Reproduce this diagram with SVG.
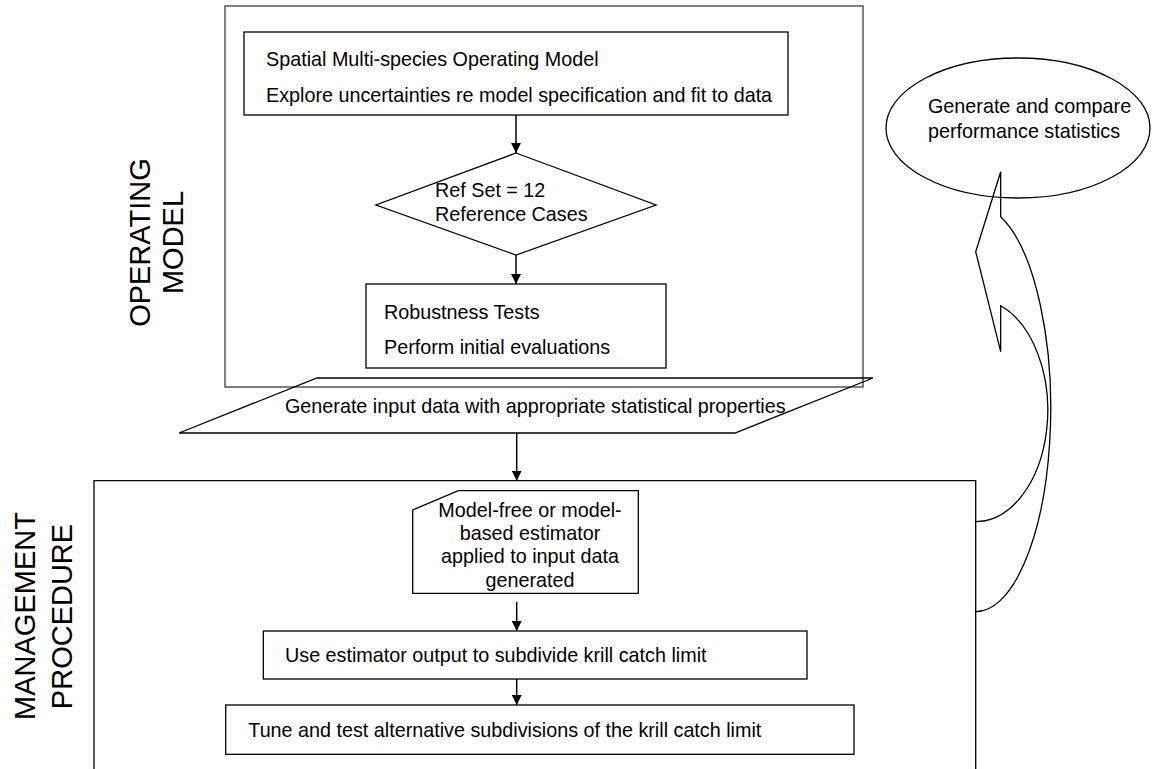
<svg xmlns="http://www.w3.org/2000/svg" width="1155" height="769" viewBox="0 0 1155 769">
<defs>
<style>
text{font-family:"Liberation Sans",Arial,sans-serif;font-size:19.75px;fill:#000}
.big{font-size:29px}
.box{fill:none;stroke:#000;stroke-width:1.3}
.frame{fill:none;stroke:#555;stroke-width:1.5}
.conn{fill:none;stroke:#000;stroke-width:1.5}
.mid{text-anchor:middle}
</style>
<marker id="ah" markerUnits="userSpaceOnUse" markerWidth="10" markerHeight="10" refX="10" refY="5" orient="auto">
<path d="M0,0 L10,5 L0,10 z" fill="#000"/>
</marker>
</defs>
<rect width="1155" height="769" fill="#fff"/>

<g id="om-frame">
<rect class="frame" x="225" y="6" width="638" height="381"/>
<text class="big mid" transform="translate(150,242.5) rotate(-90)">OPERATING</text>
<text class="big mid" transform="translate(183.3,242.5) rotate(-90)">MODEL</text>
</g>

<g id="mp-frame">
<path class="box" d="M94,769 V480.7 H975.7 V769"/>
<text class="big mid" transform="translate(35,616) rotate(-90)">MANAGEMENT</text>
<text class="big mid" transform="translate(71.7,616.5) rotate(-90)">PROCEDURE</text>
</g>

<g id="spatial-model">
<rect class="box" x="244" y="32" width="544" height="83"/>
<text x="266" y="66">Spatial Multi-species Operating Model</text>
<text x="266" y="102">Explore uncertainties re model specification and fit to data</text>
</g>

<g id="ref-set">
<polygon class="box" points="516,153 656,205 516,255 376,205"/>
<text x="435" y="197">Ref Set = 12</text>
<text x="435" y="221">Reference Cases</text>
</g>

<g id="robustness">
<rect class="box" x="366" y="284" width="300" height="84"/>
<text x="384" y="319">Robustness Tests</text>
<text x="384" y="354">Perform initial evaluations</text>
</g>

<g id="input-data">
<polygon class="box" points="317,378 873,378 735,433 179,433"/>
<text x="285" y="412.7">Generate input data with appropriate statistical properties</text>
</g>

<g id="estimator">
<path class="box" d="M458.3,490.7 H638.3 V593.3 H412.7 V510 Z"/>
<text class="mid" x="530" y="516.7">Model-free or model-</text>
<text class="mid" x="530" y="540">based estimator</text>
<text class="mid" x="530" y="563.3">applied to input data</text>
<text class="mid" x="530" y="586.7">generated</text>
</g>

<g id="subdivide">
<rect class="box" x="263.3" y="631" width="543.7" height="48"/>
<text x="285" y="662.3">Use estimator output to subdivide krill catch limit</text>
</g>

<g id="tune">
<rect class="box" x="225.7" y="705" width="628.3" height="49.3"/>
<text x="248.3" y="736.7">Tune and test alternative subdivisions of the krill catch limit</text>
</g>

<g id="performance">
<ellipse class="box" cx="1018" cy="128" rx="132" ry="70"/>
<text x="928" y="113.3">Generate and compare</text>
<text x="928" y="138.3">performance statistics</text>
</g>

<g id="connectors">
<line class="conn" x1="516" y1="115" x2="516" y2="153" marker-end="url(#ah)"/>
<line class="conn" x1="516" y1="255" x2="516" y2="284" marker-end="url(#ah)"/>
<line class="conn" x1="516.7" y1="433" x2="516.7" y2="480.7" marker-end="url(#ah)"/>
<line class="conn" x1="516.7" y1="602" x2="516.7" y2="631" marker-end="url(#ah)"/>
<line class="conn" x1="516.7" y1="679" x2="516.7" y2="705" marker-end="url(#ah)"/>
<path id="feedback-arrow" class="box" d="M975.7,611.7 A75,203.3 0 0 0 1000.7,216.7 L1000.7,171.7 L975.7,251.7 L1000.7,351.7 L1000.7,305.7 A72.3,111.5 0 0 1 975.7,521.7"/>
</g>
</svg>
